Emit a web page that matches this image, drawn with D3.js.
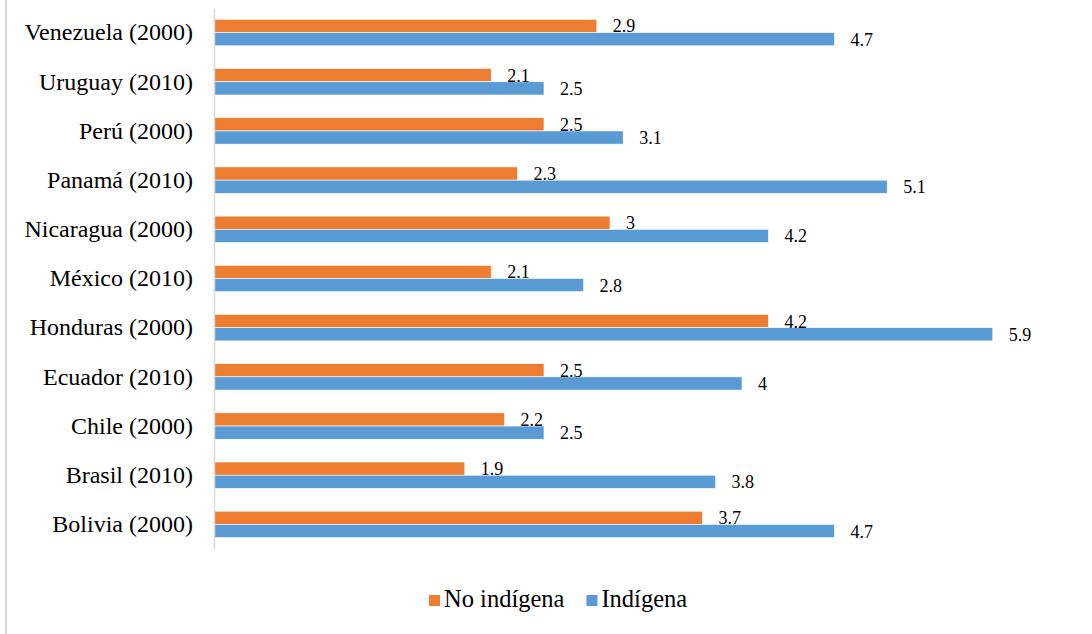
<!DOCTYPE html>
<html>
<head>
<meta charset="utf-8">
<script src="https://cdn.jsdelivr.net/npm/d3@7"></script>
<style>
  html, body { margin: 0; padding: 0; background: #fff; }
  svg { display: block; }
</style>
</head>
<body>
<svg id="chart" width="1092" height="634"></svg>
<script>
const categories = ["Venezuela (2000)", "Uruguay (2010)", "Perú (2000)", "Panamá (2010)", "Nicaragua (2000)", "México (2010)", "Honduras (2000)", "Ecuador (2010)", "Chile (2000)", "Brasil (2010)", "Bolivia (2000)"];
const seriesNames = ["No indígena", "Indígena"];
const noIndigena = [2.9, 2.1, 2.5, 2.3, 3, 2.1, 4.2, 2.5, 2.2, 1.9, 3.7];
const indigena = [4.7, 2.5, 3.1, 5.1, 4.2, 2.8, 5.9, 4, 2.5, 3.8, 4.7];
const colors = ["#ED7D31", "#5B9BD5"];
const FONT = "Liberation Serif, Times New Roman, serif";

const svg = d3.select("#chart");

// outer frame left edge
svg.append("line").attr("x1", 6).attr("x2", 6).attr("y1", 0).attr("y2", 634)
  .attr("stroke", "#d9d9d9").attr("stroke-width", 2);

const x = d3.scaleLinear().domain([0, 6]).range([214, 214 + 132 * 6]);
const y = d3.scaleBand().domain(categories).range([8, 549]).paddingInner(0.463).paddingOuter(0.2315);
const ySub = d3.scaleBand().domain(seriesNames).range([0, y.bandwidth()]).padding(0);

const rows = categories.map((c, i) => ({ cat: c, vals: [noIndigena[i], indigena[i]] }));

const g = svg.append("g");
const groups = g.selectAll("g.row").data(rows).join("g")
  .attr("class", "row")
  .attr("transform", d => `translate(0,${y(d.cat)})`);

groups.selectAll("rect").data(d => d.vals.map((v, k) => ({ v, k })))
  .join("rect")
  .attr("x", x(0))
  .attr("y", d => ySub(seriesNames[d.k]))
  .attr("width", d => x(d.v) - x(0))
  .attr("height", ySub.bandwidth())
  .attr("fill", d => colors[d.k])
  .attr("stroke", "#fff").attr("stroke-width", 0.6);

groups.selectAll("text.val").data(d => d.vals.map((v, k) => ({ v, k })))
  .join("text")
  .attr("class", "val")
  .attr("x", d => x(d.v) + 16)
  .attr("y", d => ySub(seriesNames[d.k]) + ySub.bandwidth() / 2 + 6.5)
  .attr("font-family", FONT)
  .attr("font-size", 18)
  .attr("fill", "#000")
  .text(d => d3.format("")(d.v));

// axis
const yAxis = d3.axisLeft(y).tickSize(0).tickPadding(21);
const ax = svg.append("g").attr("transform", `translate(${x(0)},0)`).call(yAxis);
ax.attr("font-family", FONT).attr("font-size", 24);
ax.select(".domain").attr("stroke", "#d9d9d9").attr("stroke-width", 1.5);
ax.selectAll(".tick text")
  .attr("fill", "#000")
  .attr("dy", null)
  .attr("y", 7.8);

// legend
const legend = svg.append("g");
const items = legend.selectAll("g").data(seriesNames).join("g");
items.append("rect").attr("width", 11).attr("height", 11).attr("y", 595)
  .attr("fill", (d, i) => colors[i]);
items.append("text").attr("x", 15).attr("y", 606.5)
  .attr("font-family", FONT).attr("font-size", 24.5).attr("fill", "#000").text(d => d);
let cx = 429;
items.each(function () {
  const w = d3.select(this).select("text").node().getComputedTextLength();
  d3.select(this).attr("transform", `translate(${cx},0)`);
  cx += 15 + w + 22;
});
</script>
</body>
</html>
